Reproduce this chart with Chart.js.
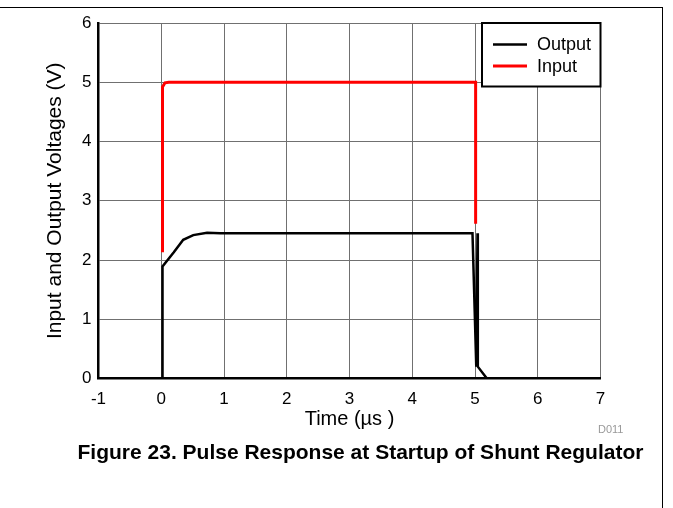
<!DOCTYPE html>
<html>
<head>
<meta charset="utf-8">
<script src="https://cdn.jsdelivr.net/npm/chart.js@4/dist/chart.umd.min.js"></script>
<style>
  body { margin: 0; background: #fff; }
  #wrap { position: relative; width: 673px; height: 508px; overflow: hidden; font-family: Arial, "Liberation Sans", sans-serif; }
  #frame { position: absolute; left: -2px; top: 7px; width: 664px; height: 520px; border-top: 1px solid #000; border-right: 1px solid #000; }
  #chart { position: absolute; left: 0; top: 0; }
  #code { position: absolute; left: 598px; top: 423px; font-size: 11px; line-height: 13px; color: #999; }
  #caption { position: absolute; left: 0; width: 721px; top: 440px; line-height: 24px; text-align: center; font-size: 21px; font-weight: bold; color: #000; }
</style>
</head>
<body>
<div id="wrap">
  <div id="frame"></div>
  <canvas id="chart" width="673" height="508"></canvas>
  <div id="code">D011</div>
  <div id="caption">Figure 23. Pulse Response at Startup of Shunt Regulator</div>
</div>
<script>
// values (time in µs, voltage in V)
const outputTime = [0.02, 0.02, 0.2, 0.35, 0.51, 0.73, 0.94, 4.96, 5.02, 5.04, 5.045, 5.19];
const outputVolts = [0, 1.89, 2.13, 2.34, 2.42, 2.46, 2.45, 2.45, 0.2, 2.45, 0.2, 0];
const inputTime = [0.02, 0.02, 0.06, 0.12, 5.01, 5.01];
const inputVolts = [2.13, 4.92, 4.99, 5.0, 5.0, 2.61];
const xTicks = [-1, 0, 1, 2, 3, 4, 5, 6, 7];
const yTicks = [0, 1, 2, 3, 4, 5, 6];

const toPoints = (xs, ys) => xs.map((x, i) => ({ x: x, y: ys[i] }));
const family = "Arial, 'Liberation Sans', sans-serif";
const tickFont = { family: family, size: 17 };
const titleFont = { family: family, size: 20 };

// boxed legend in the upper right corner of the plot
const boxLegend = {
  id: "boxLegend",
  afterDraw(chart) {
    const ctx = chart.ctx;
    const area = chart.chartArea;
    const x0 = 482, y0 = area.top, x1 = area.right, y1 = 86.5;
    ctx.save();
    ctx.fillStyle = "#fff";
    ctx.fillRect(x0, y0, x1 - x0, y1 - y0);
    ctx.strokeStyle = "#000";
    ctx.lineWidth = 2;
    ctx.strokeRect(x0, y0, x1 - x0, y1 - y0);
    ctx.font = "18px " + family;
    ctx.textBaseline = "middle";
    chart.data.datasets.forEach((ds, i) => {
      const y = 44.5 + i * 21.5;
      ctx.strokeStyle = ds.borderColor;
      ctx.lineWidth = ds.borderWidth;
      ctx.beginPath();
      ctx.moveTo(493, y);
      ctx.lineTo(527, y);
      ctx.stroke();
      ctx.fillStyle = "#000";
      ctx.fillText(ds.label, 537, y + 1);
    });
    ctx.restore();
  },
};

new Chart(document.getElementById("chart").getContext("2d"), {
  type: "scatter",
  data: {
    datasets: [
      {
        label: "Output",
        data: toPoints(outputTime, outputVolts),
        showLine: true,
        borderColor: "#000",
        borderWidth: 2.5,
        pointRadius: 0,
        tension: 0,
      },
      {
        label: "Input",
        data: toPoints(inputTime, inputVolts),
        showLine: true,
        borderColor: "#ff0000",
        borderWidth: 3,
        pointRadius: 0,
        tension: 0,
      },
    ],
  },
  options: {
    responsive: false,
    animation: false,
    layout: { padding: { left: 40, right: 72.5, top: 23, bottom: 76.5 } },
    plugins: { legend: { display: false }, tooltip: { enabled: false } },
    scales: {
      x: {
        type: "linear",
        min: xTicks[0],
        max: xTicks[xTicks.length - 1],
        afterBuildTicks: (s) => { s.ticks = xTicks.map((v) => ({ value: v })); },
        afterFit: (s) => { s.height = 53; },
        border: { color: "#000", width: 2.5 },
        grid: { color: "#707070", lineWidth: 1, drawTicks: false },
        ticks: { color: "#000", font: tickFont, padding: 11 },
        title: { display: true, text: "Time (µs )", color: "#000", font: titleFont, padding: { top: 0, bottom: 0 } },
      },
      y: {
        type: "linear",
        min: yTicks[0],
        max: yTicks[yTicks.length - 1],
        afterBuildTicks: (s) => { s.ticks = yTicks.map((v) => ({ value: v })); },
        afterFit: (s) => { s.width = 58.5; },
        border: { color: "#000", width: 2.5 },
        grid: { color: "#707070", lineWidth: 1, drawTicks: false },
        ticks: { color: "#000", font: tickFont, padding: 7 },
        title: { display: true, text: "Input and Output Voltages (V)", color: "#000", font: { family: family, size: 21 }, padding: { top: 3, bottom: 0 } },
      },
    },
  },
  plugins: [boxLegend],
});
</script>
</body>
</html>
